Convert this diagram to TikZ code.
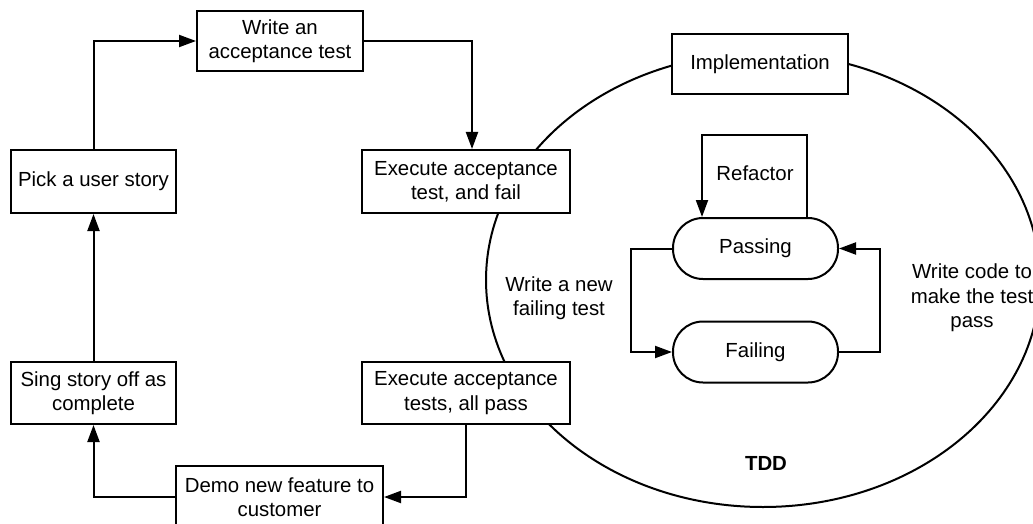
\documentclass[tikz,border=0pt]{standalone}
\usepackage{fontspec}
\setmainfont{Liberation Sans}
\usetikzlibrary{arrows.meta}

\begin{document}
\begin{tikzpicture}[x=0.5pt, y=-0.5pt,
  every node/.style={font=\fontsize{10.2pt}{12.2pt}\selectfont, align=center, inner sep=0pt},
  stepbox/.style={draw, line width=1pt, fill=white},
  statebox/.style={draw, line width=1pt, fill=white, rounded corners=15pt,
                   minimum width=82.5pt, minimum height=30.5pt},
  line/.style={line width=1pt},
  arr/.style={line width=1pt, -{Triangle[length=8.5pt,width=6pt]}}]

\useasboundingbox (0,0) rectangle (1033,524);

% TDD region
\draw[line] (763,280) ellipse [x radius=138.5pt, y radius=113.5pt];

% acceptance-test cycle
\node[stepbox, minimum width=83pt, minimum height=30pt] (write) at (280,41) {Write an\\acceptance test};
\node[stepbox, minimum width=82.5pt, minimum height=31.5pt] (pick) at (93.5,181.5) {Pick a user story};
\node[stepbox, minimum width=104pt, minimum height=31.5pt] (execfail) at (466,181.5) {Execute acceptance\\test, and fail};
\node[stepbox, minimum width=82.5pt, minimum height=31pt] (sing) at (93.5,393) {Sing story off as\\complete};
\node[stepbox, minimum width=104pt, minimum height=31pt] (execpass) at (466,393) {Execute acceptance\\tests, all pass};
\node[stepbox, minimum width=103.5pt, minimum height=31pt] (demo) at (279.5,497) {Demo new feature to\\customer};

% inner TDD loop
\node[stepbox, minimum width=88pt, minimum height=30pt] (impl) at (760,64) {Implementation};
\node[statebox] (passing) at (755.5,248.5) {Passing};
\node[statebox] (failing) at (755.5,352) {Failing};

\node (refactor) at (755,173) {Refactor};
\node (newtest) at (559,298) {Write a new\\failing test};
\node (makepass) at (972,298) {Write code to\\make the test\\pass};
\node[font=\fontsize{10.2pt}{12.2pt}\selectfont\bfseries] (tdd) at (766,463) {TDD};

\coordinate (rR) at (807,135);
\coordinate (rL) at (702,135);
\coordinate (wl) at (631,300);
\coordinate (wr) at (880,300);

% connectors
\draw[arr] (pick.north) |- (write.west);
\draw[arr] (write.east) -| ([xshift=3pt]execfail.north);
\draw[arr] (sing.north) -- (pick.south);
\draw[arr] (execpass.south) |- (demo.east);
\draw[arr] (demo.west) -| (sing.south);

\draw[arr] ([xshift=25.75pt]passing.north) -- (rR) -- (rL) -- ([xshift=-26.75pt]passing.north);
\draw[arr] (passing.west) -| (wl) |- (failing.west);
\draw[arr] (failing.east) -| (wr) |- (passing.east);
\end{tikzpicture}
\end{document}
